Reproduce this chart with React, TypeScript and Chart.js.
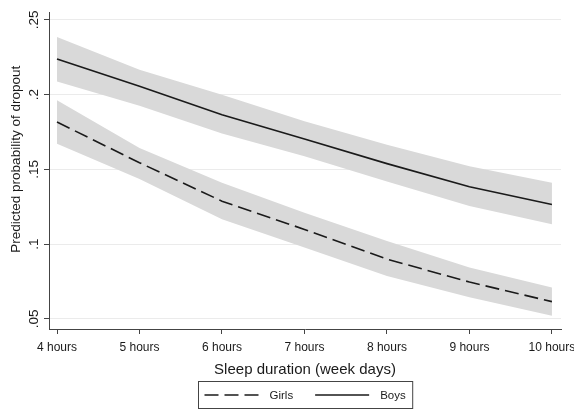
import { useEffect, useRef } from "react";
import { Chart, registerables } from "chart.js";

Chart.register(...registerables);

// ---- data ----
const hours = [4, 5, 6, 7, 8, 9, 10];
const girls = [0.1817, 0.1545, 0.1288, 0.1099, 0.09, 0.0747, 0.0616];
const girlsLow = [0.1672, 0.1436, 0.1167, 0.0978, 0.0787, 0.0645, 0.0522];
const girlsHigh = [0.1962, 0.1644, 0.1411, 0.121, 0.1022, 0.0845, 0.0711];
const boys = [0.2239, 0.2056, 0.1866, 0.1704, 0.1539, 0.1384, 0.1266];
const boysLow = [0.2089, 0.1926, 0.174, 0.1588, 0.142, 0.1255, 0.1134];
const boysHigh = [0.2386, 0.2167, 0.2, 0.1822, 0.1666, 0.1522, 0.1411];
const yTicks = [0.05, 0.1, 0.15, 0.2, 0.25];
const legendLabels = ["Girls", "Boys"];

const FONT = "'Liberation Sans', Arial, Helvetica, sans-serif";
const INK = "#1a1a1a";
const AXIS = "#444444";
const BAND = "#d9d9d9";

const boxLegend = {
  id: "boxLegend",
  afterDraw(chart: any) {
    const ctx = chart.ctx as CanvasRenderingContext2D;
    const items = legendLabels
      .map((l) => chart.data.datasets.find((d: any) => d.label === l))
      .filter(Boolean);
    ctx.save();
    ctx.font = `11.5px ${FONT}`;
    const padX = 6;
    const sample = 54;
    const gapText = 11;
    const itemGap = 22;
    const widths = items.map((d: any) => ctx.measureText(d.label).width);
    let total = padX * 2;
    widths.forEach((w: number, i: number) => {
      total += sample + gapText + w + (i < widths.length - 1 ? itemGap : 0);
    });
    total += 1;
    const ca = chart.chartArea;
    const cx = (ca.left + ca.right) / 2;
    const left = Math.round(cx - total / 2) + 0.5;
    const top = chart.height - 28 + 0.5;
    const h = 27;
    ctx.strokeStyle = AXIS;
    ctx.lineWidth = 1;
    ctx.setLineDash([]);
    ctx.strokeRect(left, top, total, h);
    const midY = top + h / 2;
    let x = left + padX;
    items.forEach((d: any, i: number) => {
      ctx.beginPath();
      ctx.setLineDash(d.borderDash || []);
      ctx.strokeStyle = d.borderColor;
      ctx.lineWidth = d.borderWidth;
      ctx.moveTo(x, midY);
      ctx.lineTo(x + sample, midY);
      ctx.stroke();
      ctx.setLineDash([]);
      x += sample + gapText;
      ctx.fillStyle = INK;
      ctx.textBaseline = "middle";
      ctx.textAlign = "left";
      ctx.fillText(d.label, x, midY + 0.5);
      x += widths[i] + itemGap;
    });
    ctx.restore();
  },
};

export default function App() {
  const ref = useRef<HTMLCanvasElement | null>(null);

  useEffect(() => {
    document.body.style.margin = "0";
    const pts = (arr: number[]) => hours.map((h, i) => ({ x: h, y: arr[i] }));
    const band = (arr: number[], fill: any, order: number) => ({
      label: "",
      data: pts(arr),
      borderWidth: 0,
      borderColor: "transparent",
      backgroundColor: BAND,
      pointRadius: 0,
      tension: 0,
      fill,
      order,
    });
    const chart = new Chart(ref.current as HTMLCanvasElement, {
      type: "line",
      data: {
        datasets: [
          {
            label: "Girls",
            data: pts(girls),
            borderColor: INK,
            borderWidth: 1.6,
            borderDash: [14, 6],
            pointRadius: 0,
            tension: 0,
            fill: false,
            order: 0,
          },
          {
            label: "Boys",
            data: pts(boys),
            borderColor: INK,
            borderWidth: 1.6,
            pointRadius: 0,
            tension: 0,
            fill: false,
            order: 1,
          },
          band(girlsHigh, false, 2),
          band(girlsLow, "-1", 3),
          band(boysHigh, false, 4),
          band(boysLow, "-1", 5),
        ] as any,
      },
      options: {
        responsive: false,
        animation: false,
        layout: { padding: { top: 12, right: 13, bottom: 30, left: 0 } },
        plugins: {
          legend: { display: false },
          tooltip: { enabled: false },
        },
        scales: {
          x: {
            type: "linear",
            min: 3.903,
            max: 10.11,
            afterBuildTicks: (s: any) => {
              s.ticks = hours.map((v) => ({ value: v }));
            },
            afterFit: (s: any) => {
              s.height = 50;
              s.paddingLeft = 0;
              s.paddingRight = 0;
            },
            ticks: {
              callback: (v: any) => `${v} hours`,
              font: { family: FONT, size: 12 },
              color: INK,
              padding: 6,
              maxRotation: 0,
              minRotation: 0,
              autoSkip: false,
            },
            grid: {
              drawOnChartArea: false,
              tickLength: 5,
              tickColor: AXIS,
              tickWidth: 1,
            },
            border: { color: AXIS, width: 1 },
            title: {
              display: true,
              text: "Sleep duration (week days)",
              font: { family: FONT, size: 15 },
              color: INK,
              padding: { top: 0, bottom: 0 },
            },
          },
          y: {
            type: "linear",
            min: 0.0433,
            max: 0.2553,
            afterBuildTicks: (s: any) => {
              s.ticks = yTicks.map((v) => ({ value: v }));
            },
            afterFit: (s: any) => {
              s.width = 49;
            },
            ticks: {
              callback: (v: any) => String(v).replace(/^0/, ""),
              font: { family: FONT, size: 13.5 },
              color: INK,
              minRotation: 90,
              maxRotation: 90,
              crossAlign: "center",
              padding: 0,
              autoSkip: false,
            },
            grid: {
              color: "#ebebeb",
              lineWidth: 1,
              tickLength: 5,
              tickColor: AXIS,
              tickWidth: 1,
            },
            border: { color: AXIS, width: 1 },
            title: {
              display: true,
              text: "      Predicted probability of dropout",
              font: { family: FONT, size: 13.5 },
              color: INK,
              padding: { top: 8, bottom: 0 },
            },
          },
        },
      } as any,
      plugins: [boxLegend],
    });
    return () => chart.destroy();
  }, []);

  return (
    <div style={{ position: "absolute", left: 0, top: 0, width: 574, height: 409 }}>
      <canvas ref={ref} width={574} height={409} />
    </div>
  );
}
